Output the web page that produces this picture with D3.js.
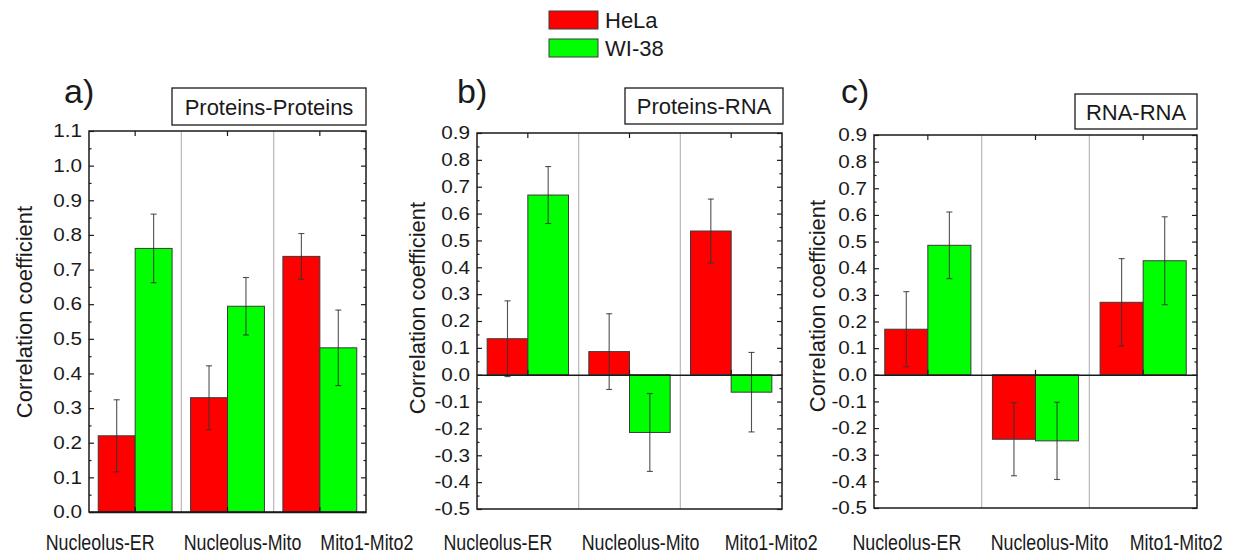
<!DOCTYPE html>
<html lang="en">
<head>
<meta charset="UTF-8">
<title>Correlation coefficient</title>
<script src="https://d3js.org/d3.v7.min.js"></script>
<style>
  body { margin: 0; background: #fff; }
  text { font-family: "Liberation Sans", Arial, sans-serif; fill: #1a1a1a; }
</style>
</head>
<body>
<div id="chart"></div>
<script>
var categories = ["Nucleolus-ER", "Nucleolus-Mito", "Mito1-Mito2"];
var seriesNames = ["HeLa", "WI-38"];
var seriesColors = ["#ff0000", "#00ff00"];

var panelLetters = ["a)", "b)", "c)"];
var panelTitles = ["Proteins-Proteins", "Proteins-RNA", "RNA-RNA"];

// a) Proteins-Proteins
var ppHeLa = [0.220, 0.330, 0.738];
var ppHeLaErr = [0.104, 0.092, 0.066];
var ppWI38 = [0.761, 0.594, 0.474];
var ppWI38Err = [0.099, 0.083, 0.109];

// b) Proteins-RNA
var prHeLa = [0.134, 0.086, 0.535];
var prHeLaErr = [0.141, 0.141, 0.119];
var prWI38 = [0.669, -0.215, -0.065];
var prWI38Err = [0.106, 0.145, 0.148];

// c) RNA-RNA
var rrHeLa = [0.171, -0.242, 0.272];
var rrHeLaErr = [0.141, 0.137, 0.164];
var rrWI38 = [0.486, -0.248, 0.428];
var rrWI38Err = [0.125, 0.145, 0.165];

var ticksPP = [0.0, 0.1, 0.2, 0.3, 0.4, 0.5, 0.6, 0.7, 0.8, 0.9, 1.0, 1.1];
var ticksRNA = [-0.5, -0.4, -0.3, -0.2, -0.1, 0.0, 0.1, 0.2, 0.3, 0.4, 0.5, 0.6, 0.7, 0.8, 0.9];

// layout of each panel (pixels)
var panels = [
  { left: 89, right: 366, top: 131, bottom: 512, domain: [0, 1.1], ticks: ticksPP,
    values: [ppHeLa, ppWI38], errors: [ppHeLaErr, ppWI38Err],
    box: [172, 88, 194, 37], letterX: 64, titleX: 32, titleY: 312, labelShift: [-35, 15, 47] },
  { left: 477, right: 782, top: 133, bottom: 509, domain: [-0.5, 0.9], ticks: ticksRNA,
    values: [prHeLa, prWI38], errors: [prHeLaErr, prWI38Err],
    box: [625, 88, 158, 36], letterX: 457, titleX: 425, titleY: 308, labelShift: [-30, 11, 40] },
  { left: 874, right: 1197, top: 135, bottom: 508, domain: [-0.5, 0.9], ticks: ticksRNA,
    values: [rrHeLa, rrWI38], errors: [rrHeLaErr, rrWI38Err],
    box: [1075, 94, 122, 35], letterX: 841, titleX: 825, titleY: 306, labelShift: [-21, 14, 33] }
];

var svg = d3.select("#chart").append("svg")
  .attr("width", 1240)
  .attr("height", 556);

var fmt = function(d) { return d.toFixed(1); };

panels.forEach(function(p, pi) {
  var g = svg.append("g");
  var x = d3.scaleBand().domain(categories).range([p.left, p.right]);
  var xs = d3.scaleBand().domain(seriesNames).range([0, x.bandwidth()])
    .paddingInner(0).paddingOuter(0.25);
  var y = d3.scaleLinear().domain(p.domain).range([p.bottom, p.top]);
  var minor = p.ticks.slice(1).map(function(t, i) { return (t + p.ticks[i]) / 2; });

  // group separators
  g.selectAll(".sep").data(categories.slice(1)).enter().append("line")
    .attr("x1", function(d) { return x(d); })
    .attr("x2", function(d) { return x(d); })
    .attr("y1", p.top).attr("y2", p.bottom)
    .attr("stroke", "#b8b8b8").attr("stroke-width", 1.2);

  // bars
  seriesNames.forEach(function(s, si) {
    var vals = p.values[si], errs = p.errors[si];
    g.selectAll(".bar" + si).data(vals).enter().append("rect")
      .attr("x", function(d, i) { return x(categories[i]) + xs(s); })
      .attr("y", function(d) { return Math.min(y(d), y(0)); })
      .attr("width", xs.bandwidth())
      .attr("height", function(d) { return Math.abs(y(d) - y(0)); })
      .attr("fill", seriesColors[si])
      .attr("stroke", "#3a3a3a").attr("stroke-width", 1);

    var eb = g.selectAll(".err" + si).data(vals).enter().append("g")
      .attr("stroke", "#333").attr("stroke-width", 1.1).attr("stroke-opacity", 0.85);
    eb.append("line")
      .attr("x1", function(d, i) { return x(categories[i]) + xs(s) + xs.bandwidth() / 2; })
      .attr("x2", function(d, i) { return x(categories[i]) + xs(s) + xs.bandwidth() / 2; })
      .attr("y1", function(d, i) { return y(d - errs[i]); })
      .attr("y2", function(d, i) { return y(d + errs[i]); });
    [-1, 1].forEach(function(sign) {
      eb.append("line")
        .attr("x1", function(d, i) { return x(categories[i]) + xs(s) + xs.bandwidth() / 2 - 3; })
        .attr("x2", function(d, i) { return x(categories[i]) + xs(s) + xs.bandwidth() / 2 + 3; })
        .attr("y1", function(d, i) { return y(d + sign * errs[i]); })
        .attr("y2", function(d, i) { return y(d + sign * errs[i]); });
    });
  });

  // zero line with ticks at group centres
  var zero = g.append("g").attr("transform", "translate(0," + y(0) + ")")
    .call(d3.axisBottom(x).tickSizeInner(-5).tickSizeOuter(0).tickFormat(""));
  zero.select(".domain").attr("stroke", "#1a1a1a").attr("stroke-width", 1.5);
  zero.selectAll(".tick line").attr("stroke", "#1a1a1a").attr("stroke-width", 1.2);

  // frame
  g.append("rect")
    .attr("x", p.left).attr("y", p.top)
    .attr("width", p.right - p.left).attr("height", p.bottom - p.top)
    .attr("fill", "none").attr("stroke", "#1a1a1a").attr("stroke-width", 1.5);

  // left axis
  var la = g.append("g").attr("transform", "translate(" + p.left + ",0)")
    .call(d3.axisLeft(y).tickValues(p.ticks).tickSizeInner(-5).tickSizeOuter(0)
      .tickPadding(6).tickFormat(fmt));
  la.select(".domain").remove();
  // the tick numbers are short and wide in the original
  la.selectAll("text").style("font-size", "18px").style("font-family", "'Liberation Sans', Arial, sans-serif")
    .attr("fill", "#1a1a1a")
    .attr("transform", "scale(1.15,1)");
  g.append("g").attr("transform", "translate(" + p.left + ",0)")
    .call(d3.axisLeft(y).tickValues(minor).tickSizeInner(-2.5).tickSizeOuter(0).tickFormat(""))
    .select(".domain").remove();

  // right axis
  g.append("g").attr("transform", "translate(" + p.right + ",0)")
    .call(d3.axisRight(y).tickValues(p.ticks).tickSizeInner(-5).tickSizeOuter(0).tickFormat(""))
    .select(".domain").remove();
  g.append("g").attr("transform", "translate(" + p.right + ",0)")
    .call(d3.axisRight(y).tickValues(minor).tickSizeInner(-2.5).tickSizeOuter(0).tickFormat(""))
    .select(".domain").remove();

  // top axis ticks at group centres
  g.append("g").attr("transform", "translate(0," + p.top + ")")
    .call(d3.axisTop(x).tickSizeInner(-5).tickSizeOuter(0).tickFormat(""))
    .select(".domain").remove();

  g.selectAll(".tick line").attr("stroke", "#1a1a1a").attr("stroke-width", 1.2);

  // category labels (narrow lettering)
  g.selectAll(".cat").data(categories).enter().append("text")
    .attr("transform", function(d, i) {
      return "translate(" + (x(d) + x.bandwidth() / 2 + p.labelShift[i]) + ",550) scale(0.81,1)";
    })
    .attr("text-anchor", "middle")
    .style("font-size", "22px")
    .text(function(d) { return d; });

  // y axis title
  g.append("text")
    .attr("transform", "translate(" + p.titleX + "," + p.titleY + ") rotate(-90)")
    .attr("text-anchor", "middle")
    .style("font-size", "22px")
    .text("Correlation coefficient");

  // panel letter
  g.append("text")
    .attr("x", p.letterX).attr("y", 103)
    .style("font-size", "34px")
    .text(panelLetters[pi]);

  // panel title box
  g.append("rect")
    .attr("x", p.box[0]).attr("y", p.box[1])
    .attr("width", p.box[2]).attr("height", p.box[3])
    .attr("fill", "#fff").attr("stroke", "#1a1a1a").attr("stroke-width", 1.3);
  g.append("text")
    .attr("x", p.box[0] + p.box[2] / 2).attr("y", p.box[1] + p.box[3] / 2 + 8)
    .attr("text-anchor", "middle")
    .style("font-size", "22px")
    .text(panelTitles[pi]);
});

// legend
var legend = svg.append("g").attr("transform", "translate(549,11)");
seriesNames.forEach(function(s, i) {
  legend.append("rect")
    .attr("x", 0).attr("y", i * 28)
    .attr("width", 49).attr("height", 18)
    .attr("fill", seriesColors[i])
    .attr("stroke", "#3a3a3a").attr("stroke-width", 1);
  legend.append("text")
    .attr("x", 56).attr("y", i * 28 + 17)
    .style("font-size", "22px")
    .text(s);
});
</script>
</body>
</html>
